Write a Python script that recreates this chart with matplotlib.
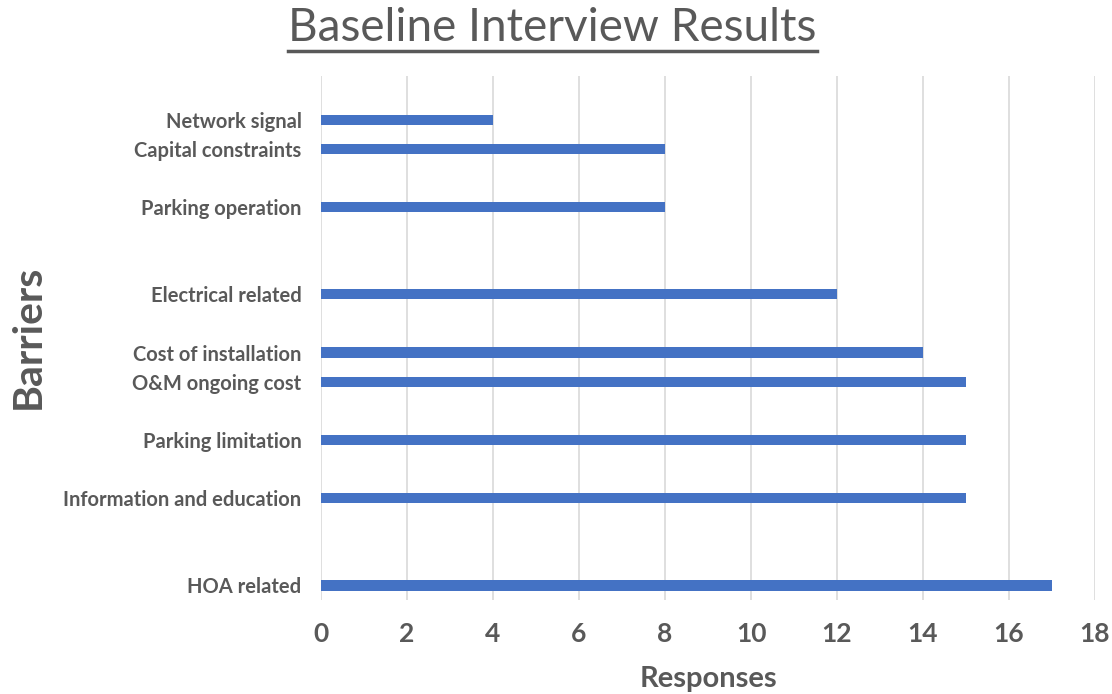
import numpy as np
import matplotlib.pyplot as plt
from matplotlib.lines import Line2D

# barrier categories, bottom to top, with their slot on the category axis
barriers = ["HOA related", "Information and education", "Parking limitation",
            "O&M ongoing cost", "Cost of installation", "Electrical related",
            "Parking operation", "Capital constraints", "Network signal"]
slots = [0, 3, 5, 7, 8, 10, 13, 15, 16]
responses = [17, 15, 15, 15, 14, 12, 8, 8, 4]
x_ticks = list(range(0, 19, 2))

GREY = "#595959"
BLUE = "#4472C4"
plt.rcParams['font.family'] = ['Lato', 'DejaVu Sans']

fig = plt.figure(figsize=(11.12, 6.94), dpi=100)
ax = fig.add_axes([0.2887, 0.1354, 0.6960, 0.7551])

ax.barh(slots, responses, height=0.35, color=BLUE, zorder=3)

ax.set_xlim(0, 18)
ax.set_ylim(-0.5, 17.5)
ax.set_xticks(x_ticks)
ax.set_xticklabels([str(t) for t in x_ticks], fontsize=19, fontweight='bold', color=GREY)
ax.set_yticks(slots)
ax.set_yticklabels(barriers, fontsize=14.5, fontweight='bold', color=GREY)
ax.tick_params(axis='both', length=0)
ax.tick_params(axis='x', pad=16)
ax.tick_params(axis='y', pad=14)
ax.grid(axis='x', color='#d9d9d9', linewidth=1.2, zorder=0)
for s in ax.spines.values():
    s.set_visible(False)

ax.set_xlabel("Responses", fontsize=21, fontweight='bold', color=GREY, labelpad=14)
fig.text(0.025, 0.514, "Barriers", rotation=90, ha='center', va='center',
         fontsize=29.5, fontweight='bold', color=GREY)

title = fig.text(0.497, 0.96, "Baseline Interview Results", ha='center', va='center',
                 fontsize=33, color=GREY)

# underline the title
fig.canvas.draw()
bb = title.get_window_extent().transformed(fig.transFigure.inverted())
fig.add_artist(Line2D([bb.x0, bb.x1], [0.927, 0.927], transform=fig.transFigure,
                      color=GREY, linewidth=2.5))

fig.savefig("out.png", dpi=100)
